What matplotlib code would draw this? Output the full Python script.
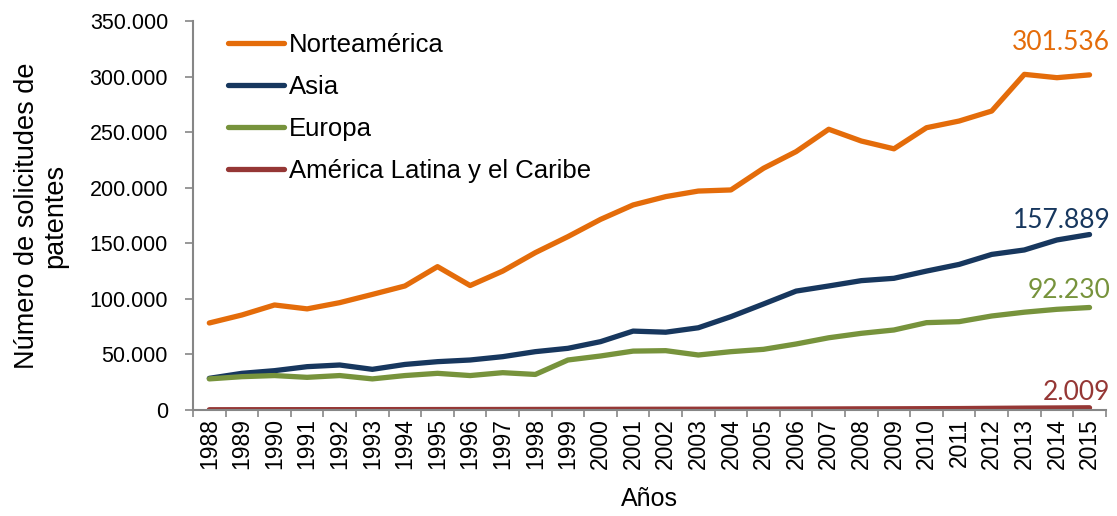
import matplotlib
matplotlib.use("Agg")
import matplotlib.pyplot as plt
from matplotlib.ticker import FuncFormatter

years = list(range(1988, 2016))
norteamerica = [78300, 85500, 94500, 91000, 96600, 104000, 111600, 129000, 112000, 125000,
                141600, 156000, 171500, 184500, 192000, 197000, 198000, 217500, 232500, 252600,
                242000, 235000, 254000, 260000, 269000, 302000, 299000, 301536]
asia = [28500, 33000, 35400, 39000, 40500, 36600, 41000, 43500, 45000, 48000,
        52500, 55500, 61500, 71000, 70000, 74000, 84000, 95400, 107000, 111600,
        116400, 118500, 125000, 131000, 140000, 144000, 153000, 157889]
europa = [28000, 30000, 31000, 29400, 31000, 28000, 31000, 33000, 31000, 33600,
          32000, 45000, 48600, 53000, 53400, 49500, 52500, 54600, 59400, 65000,
          69000, 72000, 78600, 79500, 84600, 88000, 90600, 92230]
america_latina = [250, 280, 300, 320, 330, 350, 380, 420, 450, 480,
                  520, 560, 600, 650, 680, 700, 740, 800, 880, 950,
                  1050, 1100, 1200, 1300, 1500, 1700, 1850, 2009]

names = ["Norteamérica", "Asia", "Europa", "América Latina y el Caribe"]
end_labels = ["301.536", "157.889", "92.230", "2.009"]
colors = ["#E46C0A", "#17375E", "#77933C", "#953735"]
label_dy = [23, 10, 12, 11]  # points above last point

plt.rcParams['font.family'] = ['Liberation Sans', 'DejaVu Sans']

fig = plt.figure(figsize=(11.17, 5.16), dpi=100)
ax = fig.add_axes([0.1728, 0.2054, 0.990 - 0.1728, 0.9593 - 0.2054])

for name, vals, color, lab, dy in zip(names, [norteamerica, asia, europa, america_latina],
                                      colors, end_labels, label_dy):
    ax.plot(years, vals, color=color, lw=3.8, label=name, solid_capstyle='round',
            solid_joinstyle='round')
    ax.annotate(lab, xy=(years[-1], vals[-1]), xytext=(15, dy), textcoords='offset points',
                ha='right', va='center', color=color, fontsize=19,
                family=['Lato', 'DejaVu Sans'])

ax.set_xlim(1987.5, 2015.5)
ax.set_ylim(0, 350000)
ax.set_yticks(range(0, 350001, 50000))
ax.yaxis.set_major_formatter(FuncFormatter(lambda v, p: f"{int(v):,}".replace(",", ".")))
ax.set_xticks(years)
ax.set_xticklabels([str(y) for y in years], rotation=90, fontsize=16.5)
ax.set_xticks([y + 0.5 for y in [1987] + years], minor=True)
ax.tick_params(axis='x', which='major', length=0, pad=6)
ax.tick_params(axis='x', which='minor', length=5, width=1.2, color='#868686', direction='out')
ax.tick_params(axis='y', which='major', length=6, width=1.2, color='#868686', labelsize=15.5, pad=12)

for s in ['top', 'right']:
    ax.spines[s].set_visible(False)
for s in ['left', 'bottom']:
    ax.spines[s].set_color('#868686')
    ax.spines[s].set_linewidth(1.5)

ax.set_ylabel("Número de solicitudes de\npatentes", fontsize=19.5, labelpad=15, linespacing=1.15)
ax.set_xlabel("Años", fontsize=18, labelpad=13)

leg = ax.legend(loc='upper left', bbox_to_anchor=(0.0274, 0.995), borderaxespad=0,
                frameon=False, fontsize=18.5,
                handlelength=2.15, handletextpad=0.2, labelspacing=0.7)

fig.savefig("out.png", dpi=100)
